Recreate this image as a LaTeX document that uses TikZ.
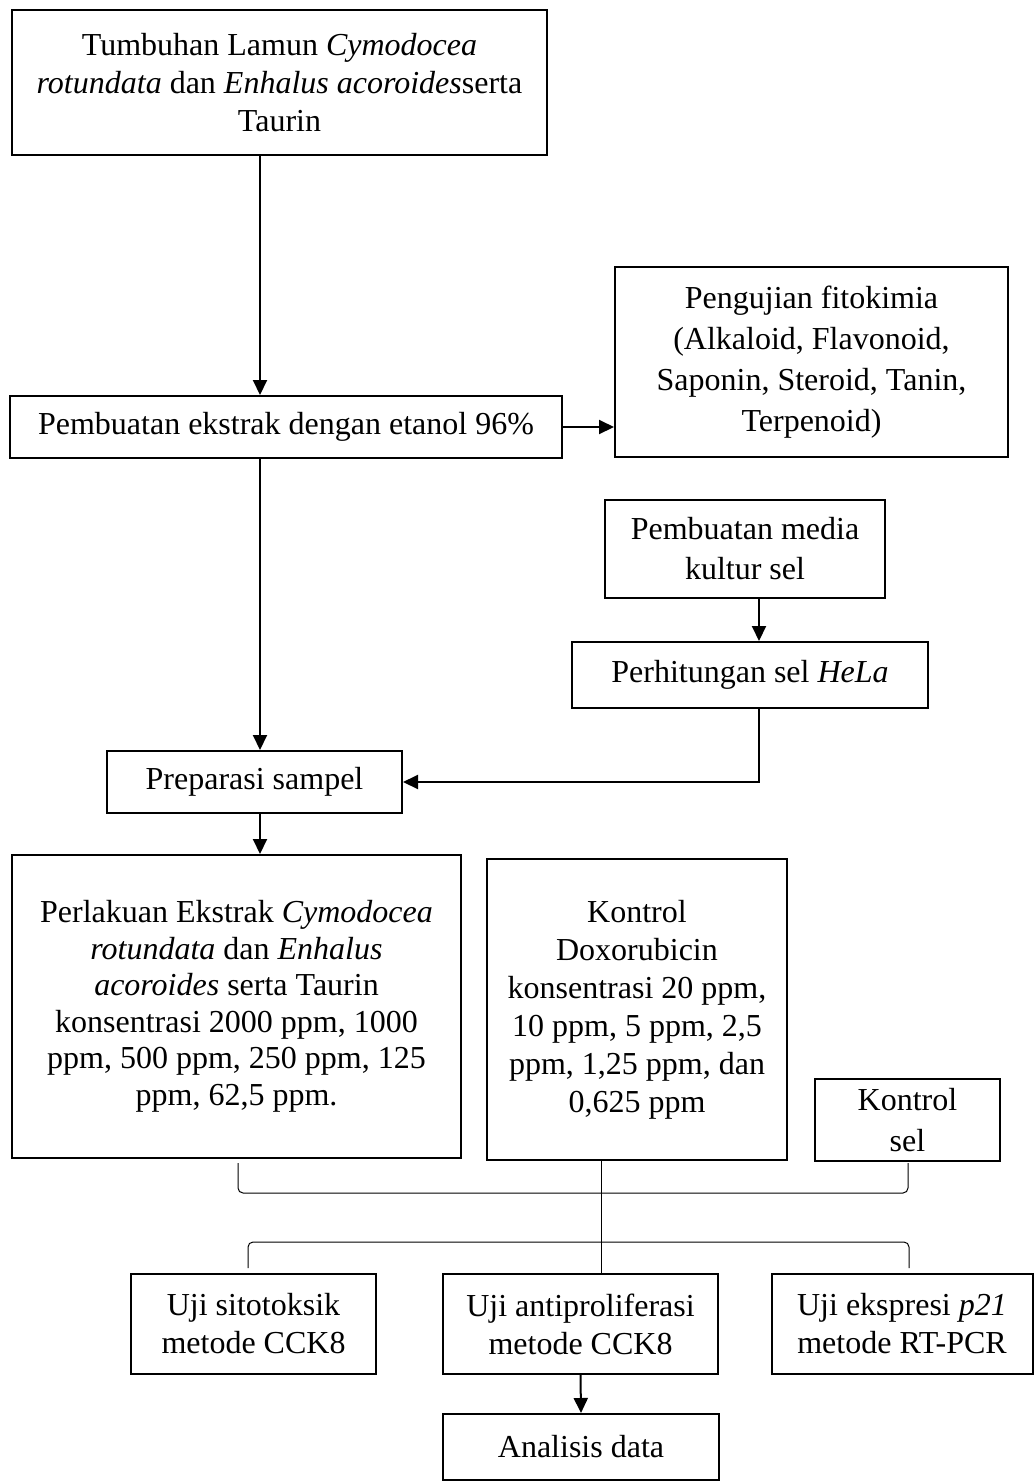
\documentclass[tikz,border=0pt]{standalone}
\usepackage{fontspec}
\setmainfont{Liberation Serif}
\usetikzlibrary{arrows.meta}
\begin{document}
\begin{tikzpicture}[x=1pt,y=-1pt,
  box/.style={draw, line width=2pt, align=center, inner sep=0pt, font=\fontsize{32}{38}\selectfont},
  arr/.style={line width=2pt, -{Triangle[length=15pt,width=14pt]}},
  brace/.style={line width=1pt, rounded corners=5pt}]
\useasboundingbox (0,0) rectangle (1035,1481);

\node[box, minimum width=535pt, minimum height=145pt] (src) at (279.5,82.5)
  {Tumbuhan Lamun \textit{Cymodocea}\\\textit{rotundata} dan \textit{Enhalus acoroides}serta\\Taurin};
\node[box, minimum width=552pt, minimum height=62pt] (ext) at (286,427)
  {Pembuatan ekstrak dengan etanol 96\%};
\node[box, minimum width=393pt, minimum height=190pt, font=\fontsize{32}{41}\selectfont] (fito) at (811.5,362)
  {Pengujian fitokimia\\(Alkaloid, Flavonoid,\\Saponin, Steroid, Tanin,\\Terpenoid)};
\node[box, minimum width=280pt, minimum height=98pt, font=\fontsize{32}{40}\selectfont] (media) at (745,549)
  {Pembuatan media\\kultur sel};
\node[box, minimum width=356pt, minimum height=66pt] (hela) at (750,675)
  {Perhitungan sel \textit{HeLa}};
\node[box, minimum width=295pt, minimum height=62pt] (prep) at (254.5,782)
  {Preparasi sampel};
\node[box, minimum width=449pt, minimum height=303pt, font=\fontsize{32}{36.5}\selectfont] (treat) at (236.5,1006.5)
  {Perlakuan Ekstrak \textit{Cymodocea}\\\textit{rotundata} dan \textit{Enhalus}\\\textit{acoroides} serta Taurin\\konsentrasi 2000 ppm, 1000\\ppm, 500 ppm, 250 ppm, 125\\ppm, 62,5 ppm.};
\node[box, minimum width=300pt, minimum height=301pt] (doxo) at (637,1009.5)
  {Kontrol\\Doxorubicin\\konsentrasi 20 ppm,\\10 ppm, 5 ppm, 2,5\\ppm, 1,25 ppm, dan\\0,625 ppm};
\node[box, minimum width=185pt, minimum height=82pt] (ksel) at (907.5,1120)
  {Kontrol\\[3pt]sel};
\node[box, minimum width=245pt, minimum height=100pt] (sito) at (253.5,1324)
  {Uji sitotoksik\\metode CCK8};
\node[box, minimum width=275pt, minimum height=100pt] (anti) at (580.5,1324)
  {Uji antiproliferasi\\metode CCK8};
\node[box, minimum width=261pt, minimum height=100pt] (eksp) at (902,1324)
  {Uji ekspresi \textit{p21}\\metode RT-PCR};
\node[box, minimum width=276pt, minimum height=66pt] (anal) at (581,1447)
  {Analisis data};

\coordinate (c1) at (260,0);
\coordinate (c2) at (759,0);
\coordinate (c3) at (601,0);
\draw[arr] (src.south -| c1) -- (ext.north -| c1);
\draw[arr] (ext.east) -- (ext.east -| fito.west);
\draw[arr] (ext.south -| c1) -- (prep.north -| c1);
\draw[arr] (prep.south -| c1) -- (treat.north -| c1);
\draw[arr] (media.south -| c2) -- (hela.north -| c2);
\draw[arr] (hela.south -| c2) |- (prep.east);

% upper bracket
\coordinate (b1l) at (238,1163);
\coordinate (b1r) at (908,1163);
\draw[brace] (b1l) -- (238,1193) -- (908,1193) -- (b1r);
\draw[line width=1pt] (doxo.south -| c3) -- (anti.north -| c3);
% lower bracket
\coordinate (b2l) at (248,1268);
\coordinate (b2r) at (909,1268);
\draw[brace] (b2l) -- (248,1242) -- (909,1242) -- (b2r);

\draw[arr] (anti.south) -- (anal.north);
\end{tikzpicture}
\end{document}
